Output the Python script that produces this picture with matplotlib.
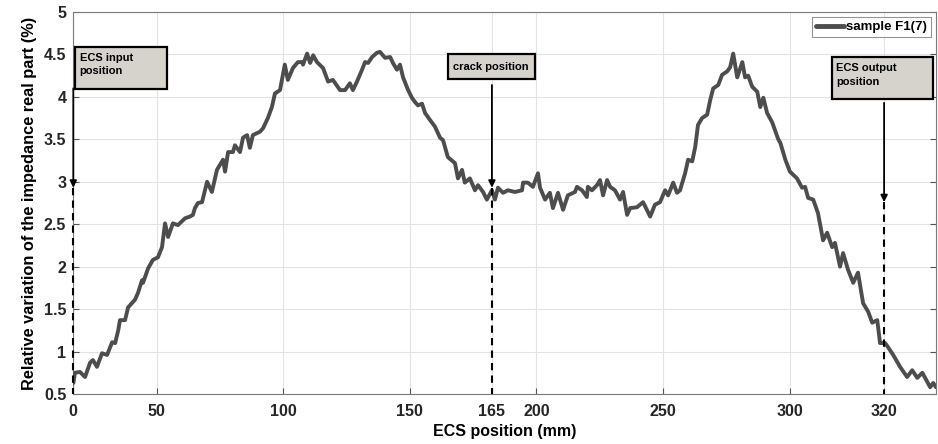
import numpy as np
import matplotlib
matplotlib.use("Agg")
import matplotlib.pyplot as plt
from matplotlib.patches import Rectangle
from matplotlib.ticker import FormatStrFormatter

# plot coordinate (linear axis) and tick labels as printed on the chart
tick_pos = [17.06, 50, 100, 150, 182.4, 200, 250, 300, 337.3]
tick_labels = ["0", "50", "100", "150", "165", "200", "250", "300", "320"]

# curve (plot coordinate, %)
x = [17.1, 17.7, 19.7, 21.7, 23.7, 24.8, 26.4, 28.4, 30.4, 32.4, 33.6, 34.8,
     35.5, 37.5, 38.7, 41.4, 42.6, 44.2, 44.6, 46.6, 48.5, 50.5, 52.1, 53.3,
     54.5, 56.4, 58.4, 61.2, 63.1, 64.3, 65.1, 66.3, 67.9, 69.9, 71.8, 73.8,
     76.2, 77.0, 78.2, 80.1, 80.9, 82.9, 84.1, 85.7, 86.8, 88.0, 90.8, 92.0,
     93.9, 95.5, 96.7, 98.7, 100.6, 101.8, 103.8, 105.8, 107.4, 107.8, 109.4,
     110.6, 111.8, 113.3, 115.7, 117.7, 119.6, 122.4, 124.4, 126.3, 127.5,
     129.1, 131.1, 132.3, 133.5, 135.1, 137.0, 138.2, 140.2, 142.2, 143.3,
     144.9, 146.1, 147.3, 149.3, 150.8, 152.0, 153.2, 154.8, 156.0, 157.9,
     159.9, 161.9, 163.1, 165.0, 167.8, 169.0, 170.6, 171.7, 173.7, 175.7,
     176.9, 178.9, 180.4, 182.4, 183.6, 184.8, 186.8, 188.7, 191.5, 194.3,
     194.7, 196.6, 198.6, 200.6, 201.4, 203.4, 205.3, 206.5, 208.5, 210.5,
     212.4, 215.2, 216.0, 218.0, 219.9, 220.3, 221.9, 223.9, 225.1, 226.3,
     227.9, 229.1, 231.0, 233.0, 234.2, 235.8, 237.0, 239.7, 242.1, 244.9,
     246.8, 248.8, 250.8, 252.0, 254.0, 255.5, 256.7, 258.7, 259.9, 261.5,
     262.7, 263.8, 265.4, 267.4, 268.6, 269.8, 271.8, 273.3, 275.3, 276.5,
     277.7, 279.3, 281.3, 282.4, 283.6, 285.2, 287.2, 288.4, 289.6, 291.1,
     293.1, 294.3, 295.5, 296.3, 298.3, 300.1, 302.9, 304.9, 306.1, 307.3,
     309.3, 311.2, 313.2, 314.8, 316.8, 317.9, 319.9, 321.1, 323.1, 325.1,
     327.0, 329.0, 331.0, 332.6, 334.6, 335.7, 337.7, 338.9, 340.9, 343.6,
     346.4, 348.4, 350.4, 352.4, 354.4, 355.5, 356.7, 357.8]
y = [0.63, 0.75, 0.76, 0.70, 0.87, 0.90, 0.82, 0.98, 0.96, 1.11, 1.10, 1.25,
     1.37, 1.37, 1.52, 1.61, 1.69, 1.84, 1.81, 1.98, 2.08, 2.11, 2.23, 2.51,
     2.35, 2.51, 2.49, 2.57, 2.59, 2.61, 2.69, 2.75, 2.76, 3.00, 2.88, 3.14,
     3.26, 3.12, 3.35, 3.35, 3.43, 3.35, 3.52, 3.55, 3.40, 3.55, 3.59, 3.63,
     3.75, 3.88, 4.04, 4.08, 4.38, 4.20, 4.34, 4.41, 4.41, 4.38, 4.51,
     4.40, 4.49, 4.41, 4.34, 4.18, 4.20, 4.08, 4.08, 4.16, 4.08,
     4.18, 4.32, 4.41, 4.40, 4.47, 4.52, 4.53, 4.46, 4.47, 4.40,
     4.32, 4.38, 4.23, 4.08, 3.99, 3.94, 3.90, 3.92, 3.81, 3.73,
     3.65, 3.52, 3.49, 3.29, 3.22, 3.04, 3.14, 2.99, 3.04, 2.90,
     2.96, 2.88, 2.79, 2.90, 2.79, 2.93, 2.87, 2.90, 2.88, 2.90,
     2.99, 2.99, 2.94, 3.10, 2.93, 2.79, 2.87, 2.69, 2.87, 2.67,
     2.84, 2.88, 2.94, 2.90, 2.82, 2.94, 2.90, 2.96, 3.02, 2.84,
     3.02, 2.94, 2.90, 2.79, 2.88, 2.61, 2.69, 2.70, 2.76, 2.59,
     2.73, 2.76, 2.90, 2.84, 2.99, 2.87, 2.90, 3.10, 3.26, 3.24,
     3.41, 3.67, 3.75, 3.79, 3.96, 4.10, 4.14, 4.26, 4.30, 4.35,
     4.51, 4.23, 4.41, 4.23, 4.25, 4.12, 4.06, 3.88, 3.99, 3.81,
     3.70, 3.60, 3.50, 3.46, 3.26, 3.12, 3.04, 2.93, 2.94, 2.81,
     2.79, 2.63, 2.31, 2.40, 2.23, 2.28, 2.00, 2.16, 1.96, 1.81,
     1.93, 1.57, 1.47, 1.34, 1.37, 1.10, 1.10, 1.05, 0.96, 0.82,
     0.70, 0.78, 0.69, 0.75, 0.64, 0.58, 0.63, 0.58]

# annotation boxes: text, box (x0, y0, w, h), arrow x, arrow start y, arrow tip y
notes = ["ECS input\nposition", "crack position", "ECS output\nposition"]
note_boxes = [(17.8, 4.09, 36.3, 0.50), (164.9, 4.21, 34.5, 0.29), (316.6, 3.98, 40.1, 0.49)]
note_x = [17.06, 182.4, 337.3]
note_start = [4.10, 4.14, 3.93]
note_tip = [2.93, 2.93, 2.76]

plt.rcParams["font.family"] = ["Liberation Sans", "DejaVu Sans"]
plt.rcParams["font.weight"] = "bold"

fig = plt.figure(figsize=(9.38, 4.44), dpi=100)
ax = fig.add_axes([73.3 / 938, 50 / 444, (936 - 73.3) / 938, 382 / 444])

ax.plot(x, y, color="#4d4d4d", lw=2.8, label="sample F1(7)", zorder=3,
        solid_joinstyle="round", solid_capstyle="round")

ax.set_xlim(17.06, 357.8)
ax.set_ylim(0.5, 5)
ax.set_xticks(tick_pos)
ax.set_xticklabels(tick_labels)
ax.set_yticks(np.arange(0.5, 5.01, 0.5))
ax.yaxis.set_major_formatter(FormatStrFormatter("%g"))
ax.tick_params(direction="in", length=4, width=0.8, color="#555555",
               labelsize=11.5, right=True, top=False, pad=5)
ax.tick_params(axis="x", pad=7)
for lab in ax.get_xticklabels() + ax.get_yticklabels():
    lab.set_fontweight("bold")
    lab.set_color("#262626")
ax.grid(True, color="#e3e3e3", lw=0.8)
for sp in ax.spines.values():
    sp.set_color("#7a7a7a")
    sp.set_linewidth(0.8)

ax.set_xlabel("ECS position (mm)", fontsize=11.5, fontweight="bold", labelpad=4)
ax.set_ylabel("Relative variation of the impedance real part (%)", fontsize=11.8,
              fontweight="bold", labelpad=5)

for txt, (bx, by, bw, bh), nx, ns, nt in zip(notes, note_boxes, note_x, note_start, note_tip):
    ax.add_patch(Rectangle((bx, by), bw, bh, facecolor="#d6d3cd", edgecolor="black",
                           lw=1.6, zorder=5, clip_on=False))
    if "\n" in txt:
        ax.text(bx + 1.8, by + bh - 0.07, txt, fontsize=8, fontweight="bold",
                va="top", ha="left", linespacing=1.45, zorder=6)
    else:
        ax.text(bx + bw / 2, by + bh / 2, txt, fontsize=8, fontweight="bold",
                va="center", ha="center", zorder=6)
    ax.annotate("", xy=(nx, nt), xytext=(nx, ns),
                arrowprops=dict(arrowstyle="-|>", color="black", lw=1.3,
                                mutation_scale=10, shrinkA=0, shrinkB=0),
                zorder=6, annotation_clip=False)
    ax.plot([nx, nx], [nt, 0.5], color="black", lw=1.5, ls=(0, (3.5, 2.5)),
            zorder=4, clip_on=False)

leg = ax.legend(loc="upper right", frameon=True, fancybox=False,
                handlelength=2.1, handletextpad=0.15, borderpad=0.3,
                borderaxespad=0.4, prop={"weight": "bold", "size": 9.5})
leg.get_frame().set_edgecolor("#7a7a7a")
leg.get_frame().set_linewidth(0.8)
leg.get_lines()[0].set_linewidth(3.5)

fig.savefig("out.png", dpi=100)
